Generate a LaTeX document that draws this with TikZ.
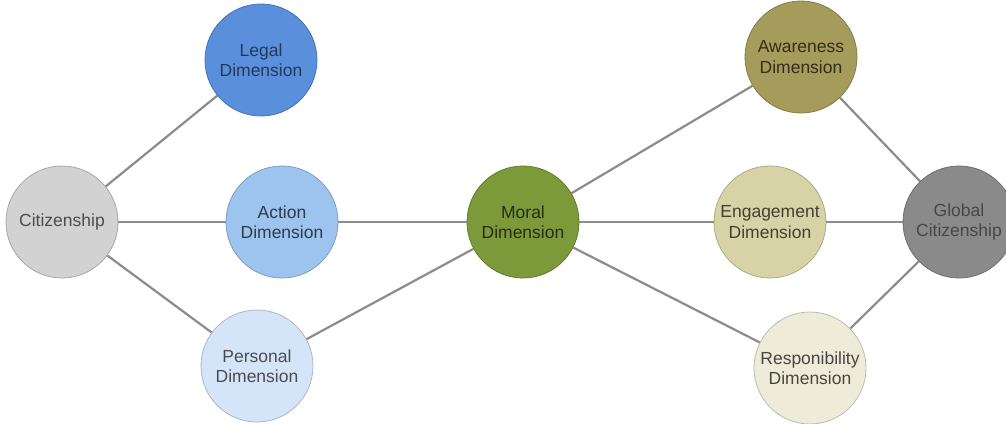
\documentclass[tikz,border=0pt]{standalone}
\usepackage{fontspec}
\setmainfont{Liberation Sans}
\begin{document}
\begin{tikzpicture}[x=1pt,y=-1pt,
  dim/.style={circle,minimum size=112pt,inner sep=0pt,line width=0.8pt,
    align=center,font=\fontsize{17.5}{20.5}\selectfont},
  link/.style={draw=black!45,line width=2.2pt}]
\useasboundingbox (0,0) rectangle (1006,423);
\clip (0,0) rectangle (1006,423);
\definecolor{legalc}{HTML}{5A8FDC}
\definecolor{actionc}{HTML}{9DC4EF}
\definecolor{personalc}{HTML}{D5E5F9}
\definecolor{citc}{HTML}{D2D2D2}
\definecolor{moralc}{HTML}{7C9A3A}
\definecolor{awarec}{HTML}{A59B5B}
\definecolor{engagec}{HTML}{D7D3A6}
\definecolor{respc}{HTML}{EEEBD8}
\definecolor{globalc}{HTML}{8A8A8A}
\fill[white] (0,0) rectangle (1006,423);
% the dimension circles
\node[dim,fill=citc,draw=citc!80!black,text=black!70] (cit) at (62,222) {Citizenship};
\node[dim,fill=legalc,draw=legalc!80!black,text=legalc!40!black] (legal) at (261,60) {Legal\\Dimension};
\node[dim,fill=actionc,draw=actionc!80!black,text=actionc!30!black] (action) at (282,222) {Action\\Dimension};
\node[dim,fill=personalc,draw=personalc!80!black,text=black!70] (personal) at (257,366) {Personal\\Dimension};
\node[dim,fill=moralc,draw=moralc!80!black,text=moralc!30!black] (moral) at (523,222) {Moral\\Dimension};
\node[dim,fill=awarec,draw=awarec!80!black,text=awarec!30!black] (aware) at (801,57) {Awareness\\Dimension};
\node[dim,fill=engagec,draw=engagec!80!black,text=engagec!30!black] (engage) at (770,222) {Engagement\\Dimension};
\node[dim,fill=respc,draw=respc!80!black,text=respc!30!black] (resp) at (810,368) {Responibility\\Dimension};
\node[dim,fill=globalc,draw=globalc!80!black,text=black!72] (global) at (959,222) {Global\\Citizenship};
% connectors between the circles
\path[link] (cit) -- (legal);
\path[link] (cit) -- (action);
\path[link] (cit) -- (personal);
\path[link] (action) -- (moral);
\path[link] (personal) -- (moral);
\path[link] (moral) -- (aware);
\path[link] (moral) -- (engage);
\path[link] (moral) -- (resp);
\path[link] (aware) -- (global);
\path[link] (engage) -- (global);
\path[link] (resp) -- (global);
\end{tikzpicture}
\end{document}
